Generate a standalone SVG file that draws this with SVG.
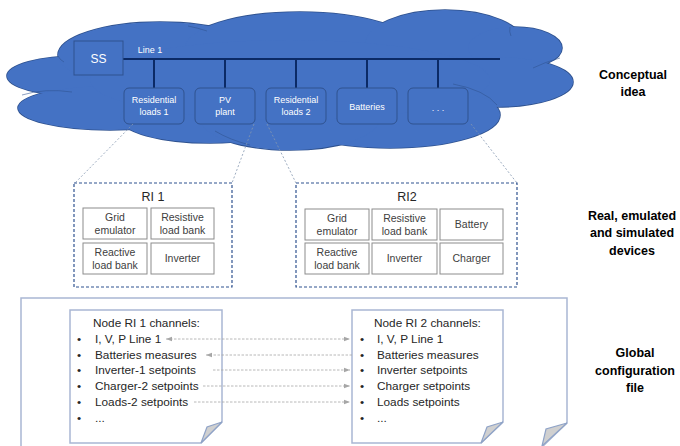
<svg xmlns="http://www.w3.org/2000/svg" xmlns:xlink="http://www.w3.org/1999/xlink" width="680" height="446" viewBox="0 0 680 446">
<style>
text{font-family:"Liberation Sans",Arial,sans-serif}
.cl{fill:#fff;font-size:9px;text-anchor:middle}
.cbox{fill:#4472C4;stroke:#2F528F;stroke-width:1}
.bus{stroke:#0B2A66;stroke-width:2;fill:none}
.bx{fill:#fff;stroke:#8C8C8C;stroke-width:1}
.bt{font-size:10.5px;fill:#404040;text-anchor:middle}
.lt{font-size:11.8px;fill:#262626}
.side{font-size:12.5px;font-weight:bold;fill:#000;text-anchor:middle}
.dash{stroke:#8497B0;stroke-width:0.8;stroke-dasharray:2 2;fill:none}
.ri{fill:none;stroke:#2F528F;stroke-width:1.2;stroke-dasharray:3 2}
.page{fill:#fff;stroke:#A9B6D3;stroke-width:1.5}
.fold{fill:#D0D0D0;stroke:#8FA3C7;stroke-width:1.2}
.arr{stroke:#A6A6A6;stroke-width:0.8;stroke-dasharray:2.5 1.5;fill:none}
.inner{fill:none;stroke:#2F528F;stroke-width:0.8;opacity:0.7}
</style>
<defs>
<g id="cloudShape">
<ellipse cx="80" cy="76" rx="73" ry="20"/>
<ellipse cx="110" cy="108" rx="92" ry="22"/>
<ellipse cx="210" cy="118" rx="90" ry="25"/>
<ellipse cx="160" cy="55" rx="102" ry="33"/>
<ellipse cx="300" cy="48" rx="115" ry="36"/>
<ellipse cx="445" cy="45" rx="80" ry="35"/>
<ellipse cx="515" cy="48" rx="47" ry="21"/>
<ellipse cx="495" cy="82" rx="78" ry="25"/>
<ellipse cx="390" cy="115" rx="110" ry="33"/>
<ellipse cx="290" cy="118" rx="90" ry="32"/>
<ellipse cx="290" cy="80" rx="200" ry="40"/>
</g>
<marker id="ah" viewBox="0 0 6 6" refX="6" refY="3" markerWidth="6" markerHeight="6" markerUnits="userSpaceOnUse" orient="auto-start-reverse">
<path d="M0,0.8 L6,3 L0,5.2 Z" fill="#A6A6A6"/>
</marker>
</defs>

<g id="cloud">
<use xlink:href="#cloudShape" fill="none" stroke="#2F528F" stroke-width="1.6"/>
<use xlink:href="#cloudShape" fill="#4472C4"/>
<path class="inner" d="M22,95 Q45,88 72,92"/>
<path class="inner" d="M58,56 Q60,60 64,62"/>
<path class="inner" d="M188,26 Q198,28 207,31"/>
<path class="inner" d="M510,27 Q509,32 511,36"/>
<path class="inner" d="M533,68 Q545,62 560,58"/>
<path class="inner" d="M453,84 Q485,90 497,105"/>
<path class="inner" d="M215,131 Q230,140 250,145"/>
</g>

<g id="bus">
<line class="bus" x1="123" y1="59" x2="500" y2="59"/>
<line class="bus" x1="154" y1="59" x2="154" y2="88"/>
<line class="bus" x1="225" y1="59" x2="225" y2="88"/>
<line class="bus" x1="296" y1="59" x2="296" y2="88"/>
<line class="bus" x1="367" y1="59" x2="367" y2="88"/>
<line class="bus" x1="438" y1="59" x2="438" y2="88"/>
<text class="cl" x="150" y="53" font-size="8.5">Line 1</text>
</g>

<g id="ss">
<rect class="cbox" x="74" y="41" width="49" height="34"/>
<text class="cl" x="98.5" y="63" style="font-size:12px">SS</text>
</g>
<g id="res1">
<rect class="cbox" x="124" y="88" width="60" height="36" rx="5"/>
<text class="cl" x="154" y="103">Residential</text>
<text class="cl" x="154" y="115">loads 1</text>
</g>
<g id="pv">
<rect class="cbox" x="195" y="88" width="60" height="36" rx="5"/>
<text class="cl" x="225" y="103">PV</text>
<text class="cl" x="225" y="115">plant</text>
</g>
<g id="res2">
<rect class="cbox" x="266" y="88" width="60" height="36" rx="5"/>
<text class="cl" x="296" y="103">Residential</text>
<text class="cl" x="296" y="115">loads 2</text>
</g>
<g id="batt">
<rect class="cbox" x="337" y="88" width="60" height="36" rx="5"/>
<text class="cl" x="367" y="110">Batteries</text>
</g>
<g id="more">
<rect class="cbox" x="408" y="88" width="60" height="36" rx="5"/>
<text class="cl" x="438" y="111">. . .</text>
</g>

<g id="connectors">
<line class="dash" x1="133" y1="124" x2="75" y2="183"/>
<line class="dash" x1="254" y1="124" x2="232" y2="183"/>
<line class="dash" x1="267" y1="124" x2="296" y2="183"/>
<line class="dash" x1="471" y1="124" x2="517" y2="183"/>
</g>

<g id="ri1">
<rect class="ri" x="74" y="183" width="158" height="104"/>
<text x="153" y="201" text-anchor="middle" font-size="12.5" fill="#262626">RI 1</text>
<rect class="bx" x="83" y="208" width="64" height="31"/>
<text class="bt" x="115" y="221">Grid</text>
<text class="bt" x="115" y="234">emulator</text>
<rect class="bx" x="151" y="208" width="63" height="31"/>
<text class="bt" x="182.5" y="221">Resistive</text>
<text class="bt" x="182.5" y="234">load bank</text>
<rect class="bx" x="83" y="243" width="64" height="31"/>
<text class="bt" x="115" y="256">Reactive</text>
<text class="bt" x="115" y="269">load bank</text>
<rect class="bx" x="151" y="243" width="63" height="31"/>
<text class="bt" x="182.5" y="262">Inverter</text>
</g>

<g id="ri2">
<rect class="ri" x="296" y="183" width="221" height="104"/>
<text x="407" y="201" text-anchor="middle" font-size="12.5" fill="#262626">RI2</text>
<rect class="bx" x="305" y="209" width="64" height="31"/>
<text class="bt" x="337" y="222">Grid</text>
<text class="bt" x="337" y="235">emulator</text>
<rect class="bx" x="372" y="209" width="65" height="31"/>
<text class="bt" x="404.5" y="222">Resistive</text>
<text class="bt" x="404.5" y="235">load bank</text>
<rect class="bx" x="440" y="209" width="63" height="31"/>
<text class="bt" x="471.5" y="228">Battery</text>
<rect class="bx" x="305" y="243" width="64" height="31"/>
<text class="bt" x="337" y="256">Reactive</text>
<text class="bt" x="337" y="269">load bank</text>
<rect class="bx" x="372" y="243" width="65" height="31"/>
<text class="bt" x="404.5" y="262">Inverter</text>
<rect class="bx" x="440" y="243" width="63" height="31"/>
<text class="bt" x="471.5" y="262">Charger</text>
</g>

<g id="global-file">
<path class="page" d="M21,447 L21,298 L567,298 L567,423 L542,447"/>
<path class="fold" d="M567,423 L546,429 L542,446 Z"/>
</g>

<g id="node-ri1">
<path class="page" d="M70,443 L70,310 L222,310 L222,422 L201,443 Z"/>
<path class="fold" d="M222,422 L207,427 L201,443 Z"/>
<text class="lt" x="93" y="327">Node RI 1 channels:</text>
<text class="lt" x="77" y="343">•</text><text class="lt" x="95" y="343">I, V, P Line 1</text>
<text class="lt" x="77" y="359">•</text><text class="lt" x="95" y="359">Batteries measures</text>
<text class="lt" x="77" y="374">•</text><text class="lt" x="95" y="374">Inverter-1 setpoints</text>
<text class="lt" x="77" y="390">•</text><text class="lt" x="95" y="390">Charger-2 setpoints</text>
<text class="lt" x="77" y="406">•</text><text class="lt" x="95" y="406">Loads-2 setpoints</text>
<text class="lt" x="77" y="422">•</text><text class="lt" x="95" y="422">...</text>
</g>

<g id="node-ri2">
<path class="page" d="M352,443 L352,310 L503,310 L503,422 L481,443 Z"/>
<path class="fold" d="M503,422 L487,427 L481,443 Z"/>
<text class="lt" x="374" y="327">Node RI 2 channels:</text>
<text class="lt" x="360" y="343">•</text><text class="lt" x="377" y="343">I, V, P Line 1</text>
<text class="lt" x="360" y="359">•</text><text class="lt" x="377" y="359">Batteries measures</text>
<text class="lt" x="360" y="374">•</text><text class="lt" x="377" y="374">Inverter  setpoints</text>
<text class="lt" x="360" y="390">•</text><text class="lt" x="377" y="390">Charger  setpoints</text>
<text class="lt" x="360" y="406">•</text><text class="lt" x="377" y="406">Loads setpoints</text>
<text class="lt" x="360" y="422">•</text><text class="lt" x="377" y="422">...</text>
</g>

<g id="channel-links">
<line class="arr" x1="166" y1="339" x2="350" y2="339" marker-start="url(#ah)" marker-end="url(#ah)"/>
<line class="arr" x1="352" y1="355" x2="206" y2="355" marker-end="url(#ah)"/>
<line class="arr" x1="213" y1="370" x2="350" y2="370" marker-end="url(#ah)"/>
<line class="arr" x1="203" y1="386" x2="350" y2="386" marker-end="url(#ah)"/>
<line class="arr" x1="194" y1="402" x2="350" y2="402" marker-end="url(#ah)"/>
</g>

<g id="labels">
<text class="side" x="633" y="79">Conceptual</text>
<text class="side" x="633" y="96">idea</text>
<text class="side" x="632" y="220">Real, emulated</text>
<text class="side" x="632" y="237">and simulated</text>
<text class="side" x="632" y="255">devices</text>
<text class="side" x="635" y="357">Global</text>
<text class="side" x="635" y="375">configuration</text>
<text class="side" x="635" y="392">file</text>
</g>
</svg>
